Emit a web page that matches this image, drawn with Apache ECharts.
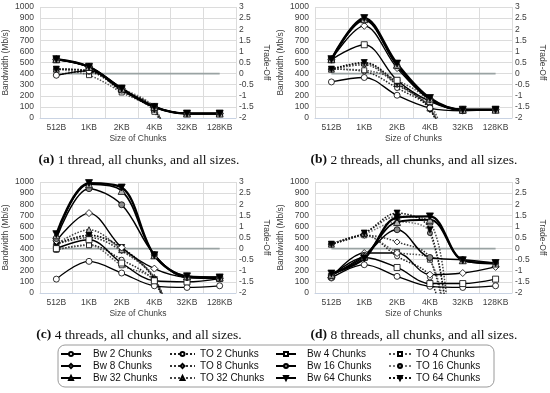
<!DOCTYPE html>
<html>
<head>
<meta charset="utf-8">
<script src="https://cdn.jsdelivr.net/npm/echarts@6/dist/echarts.min.js"></script>
<style>
html,body{margin:0;padding:0;background:#fff;}
#chart{width:550px;height:393px;}
</style>
</head>
<body>
<div id="chart"></div>
<script>
// ---------- DATA ----------
const categories = ['512B', '1KB', '2KB', '4KB', '32KB', '128KB'];
const chunkCounts = [2, 4, 8, 16, 32, 64];

// (a) 1 thread — bandwidth (Mb/s)
const bwA2  = [385, 425, 250, 95, 40, 40];
const bwA4  = [525, 458, 262, 100, 40, 40];
const bwA8  = [528, 460, 265, 100, 40, 40];
const bwA16 = [528, 460, 265, 100, 40, 40];
const bwA32 = [530, 460, 266, 100, 40, 40];
const bwA64 = [530, 462, 266, 100, 40, 40];
// (a) 1 thread — trade-off
const toA2  = [-0.07, 0.12, -0.8, -1.55, -5, -7];
const toA4  = [0.2, -0.07, -0.85, -1.72, -5, -7];
const toA8  = [0.2, 0.15, -0.7, -1.6, -5, -7];
const toA16 = [0.2, 0.15, -0.65, -1.55, -5, -7];
const toA32 = [0.2, 0.12, -0.7, -1.6, -5, -7];
const toA64 = [0.2, 0.1, -0.72, -1.62, -5, -7];

// (b) 2 threads — bandwidth
const bwB2  = [325, 365, 205, 90, 65, 75];
const bwB4  = [525, 660, 340, 150, 70, 75];
const bwB8  = [525, 830, 450, 165, 72, 75];
const bwB16 = [528, 880, 470, 170, 75, 75];
const bwB32 = [530, 890, 480, 175, 75, 75];
const bwB64 = [530, 900, 490, 180, 75, 75];
// (b) 2 threads — trade-off
const toB2  = [0.2, 0.1, -0.65, -1.6, -5, -7];
const toB4  = [0.2, 0.15, -0.3, -1.35, -5, -7];
const toB8  = [0.2, 0.4, -0.5, -1.55, -5, -7];
const toB16 = [0.2, 0.45, -0.45, -1.5, -5, -7];
const toB32 = [0.2, 0.48, -0.45, -1.55, -5, -7];
const toB64 = [0.2, 0.5, -0.42, -1.62, -5, -7];

// (c) 4 threads — bandwidth
const bwC2  = [125, 285, 180, 65, 50, 65];
const bwC4  = [400, 480, 270, 110, 100, 130];
const bwC8  = [470, 720, 410, 220, 140, 130];
const bwC16 = [490, 940, 795, 345, 140, 140];
const bwC32 = [520, 980, 920, 340, 150, 140];
const bwC64 = [530, 990, 950, 340, 150, 140];
// (c) 4 threads — trade-off
const toC2  = [-0.05, 0.17, -0.5, -1.5, -5, -7];
const toC4  = [-0.05, 0.15, -0.75, -1.45, -5, -7];
const toC8  = [0.2, 0.5, -0.1, -1.35, -5, -7];
const toC16 = [0.2, 0.6, 0.0, -1.4, -5, -7];
const toC32 = [0.2, 0.85, -0.05, -1.3, -5, -7];
const toC64 = [0.2, 0.6, 0.05, -1.4, -5, -7];

// (d) 8 threads — bandwidth
const bwD2  = [135, 255, 150, 60, 50, 65];
const bwD4  = [150, 320, 230, 85, 85, 125];
const bwD8  = [140, 360, 360, 165, 180, 235];
const bwD16 = [155, 340, 570, 320, 300, 270];
const bwD32 = [165, 330, 640, 660, 295, 265];
const bwD64 = [175, 310, 680, 690, 295, 270];
// (d) 8 threads — trade-off
const toD2  = [0.2, 0.6, -0.35, -1.3, -7, -9];
const toD4  = [0.2, 0.6, -0.15, -0.5, -7, -9];
const toD8  = [0.2, 0.6, 0.3, -0.45, -7, -9];
const toD16 = [0.2, 0.65, 1.2, 0.7, -7, -9];
const toD32 = [0.2, 0.7, 1.45, 1.2, -7, -9];
const toD64 = [0.2, 0.7, 1.6, 0.85, -7, -9];

const zeroLine = [0, 0, 0, 0, 0, 0];

const captions = [
  ['(a)', ' 1 thread, all chunks, and all sizes.'],
  ['(b)', ' 2 threads, all chunks, and all sizes.'],
  ['(c)', ' 4 threads, all chunks, and all sizes.'],
  ['(d)', ' 8 threads, all chunks, and all sizes.']
];

const panelBw = [
  [bwA2, bwA4, bwA8, bwA16, bwA32, bwA64],
  [bwB2, bwB4, bwB8, bwB16, bwB32, bwB64],
  [bwC2, bwC4, bwC8, bwC16, bwC32, bwC64],
  [bwD2, bwD4, bwD8, bwD16, bwD32, bwD64]
];
const panelTo = [
  [toA2, toA4, toA8, toA16, toA32, toA64],
  [toB2, toB4, toB8, toB16, toB32, toB64],
  [toC2, toC4, toC8, toC16, toC32, toC64],
  [toD2, toD4, toD8, toD16, toD32, toD64]
];

// ---------- STYLE ----------
const FONT = 'Liberation Sans, Arial, sans-serif';
const symbols = {
  2:  {symbol: 'circle',   fill: '#ffffff', rotate: 0,   size: 6},
  4:  {symbol: 'rect',     fill: '#ffffff', rotate: 0,   size: 6},
  8:  {symbol: 'diamond',  fill: '#ffffff', rotate: 0,   size: 7},
  16: {symbol: 'circle',   fill: '#8a8a8a', rotate: 0,   size: 6},
  32: {symbol: 'triangle', fill: '#b5b5b5', rotate: 0,   size: 7},
  64: {symbol: 'triangle', fill: '#000000', rotate: 180, size: 7}
};
const bwWidth = {2: 1.3, 4: 1.4, 8: 1.4, 16: 1.5, 32: 1.8, 64: 2.3};
const toColor = {2: '#222', 4: '#555', 8: '#333', 16: '#777', 32: '#444', 64: '#111'};

const grids = [
  {left: 40,  top: 7,   width: 196, height: 111},
  {left: 315, top: 7,   width: 197, height: 111},
  {left: 40,  top: 182, width: 196, height: 111},
  {left: 315, top: 182, width: 197, height: 111}
];

const axisText = {fontFamily: FONT, fontSize: 8.5, color: '#404040'};

const xAxes = [], yAxes = [], series = [];
grids.forEach((g, i) => {
  xAxes.push({
    type: 'category', gridIndex: i, data: categories, boundaryGap: true,
    name: 'Size of Chunks', nameLocation: 'middle', nameGap: 16,
    nameTextStyle: axisText,
    axisLabel: Object.assign({margin: 5, interval: 0}, axisText),
    axisTick: {show: false},
    axisLine: {show: true, lineStyle: {color: '#c9d3e3', width: 1}},
    splitLine: {show: true, interval: 0, lineStyle: {color: '#dcdcdc', width: 1}}
  });
  yAxes.push({
    type: 'value', gridIndex: i, min: 0, max: 1000, interval: 100, position: 'left',
    name: 'Bandwidth (Mb/s)', nameLocation: 'middle', nameGap: 30,
    nameTextStyle: axisText,
    axisLabel: Object.assign({margin: 6, formatter: v => String(v)}, axisText),
    axisTick: {show: false}, axisLine: {show: false},
    splitLine: {show: true, lineStyle: {color: '#dcdcdc', width: 1}}
  });
  yAxes.push({
    type: 'value', gridIndex: i, min: -2, max: 3, interval: 0.5, position: 'right',
    name: 'Trade-Off', nameLocation: 'middle', nameGap: 26, nameRotate: -90,
    nameTextStyle: axisText,
    axisLabel: Object.assign({margin: 3, formatter: v => String(v)}, axisText),
    axisTick: {show: false}, axisLine: {show: false},
    splitLine: {show: false}
  });

  series.push({
    name: 'zero', type: 'line', xAxisIndex: i, yAxisIndex: i * 2 + 1,
    data: zeroLine, symbol: 'none', silent: true, z: 1,
    lineStyle: {color: '#9aa3a3', width: 1.8}
  });

  chunkCounts.forEach((c, k) => {
    const s = symbols[c];
    series.push({
      name: 'TO ' + c + ' Chunks', type: 'line', xAxisIndex: i, yAxisIndex: i * 2 + 1,
      data: panelTo[i][k], smooth: 0.35, clip: true, z: 2,
      symbol: s.symbol, symbolSize: s.size - 1, symbolRotate: s.rotate,
      itemStyle: {color: s.fill, borderColor: '#000', borderWidth: 0.8},
      lineStyle: {color: toColor[c], width: 1.5, type: 'dotted'}
    });
  });
  chunkCounts.forEach((c, k) => {
    const s = symbols[c];
    series.push({
      name: 'Bw ' + c + ' Chunks', type: 'line', xAxisIndex: i, yAxisIndex: i * 2,
      data: panelBw[i][k], smooth: 0.35, clip: true, z: 3,
      symbol: s.symbol, symbolSize: s.size, symbolRotate: s.rotate,
      itemStyle: {color: s.fill, borderColor: '#000', borderWidth: 0.8},
      lineStyle: {color: '#000', width: bwWidth[c], type: 'solid'}
    });
  });
});

// legend: four columns of three rows
const legendCols = [
  {names: ['Bw 2 Chunks', 'Bw 8 Chunks', 'Bw 32 Chunks'], left: 60, w: 20, pad: 7},
  {names: ['TO 2 Chunks', 'TO 8 Chunks', 'TO 32 Chunks'], left: 169, w: 25, pad: 0},
  {names: ['Bw 4 Chunks', 'Bw 16 Chunks', 'Bw 64 Chunks'], left: 275, w: 20, pad: 6},
  {names: ['TO 4 Chunks', 'TO 16 Chunks', 'TO 64 Chunks'], left: 388, w: 22, pad: 0}
];
const legends = legendCols.map(col => ({
  orient: 'vertical', left: col.left, top: 348, padding: 0,
  itemWidth: col.w, itemHeight: 5, itemGap: 0, selectedMode: false,
  data: col.names,
  textStyle: {fontFamily: FONT, fontSize: 10, color: '#111', lineHeight: 12, padding: [0, 0, 0, col.pad]}
}));

const captionPos = [[139, 160], [414, 160], [139, 335], [414, 335]];
const graphics = captions.map((cap, i) => ({
  type: 'text', x: captionPos[i][0], y: captionPos[i][1],
  style: {
    text: '{b|' + cap[0] + '}{n|' + cap[1] + '}',
    align: 'center', verticalAlign: 'middle',
    rich: {
      b: {fontFamily: 'Liberation Serif, serif', fontSize: 13.5, fontWeight: 'bold', fill: '#111'},
      n: {fontFamily: 'Liberation Serif, serif', fontSize: 13.5, fill: '#111'}
    }
  }
}));
graphics.push({
  type: 'rect', shape: {x: 58, y: 345, width: 436, height: 42, r: 7},
  style: {fill: 'none', stroke: '#9a9a9a', lineWidth: 1}, z: -1
});

const chart = echarts.init(document.getElementById('chart'), null, {renderer: 'canvas'});
chart.setOption({
  animation: false,
  backgroundColor: '#fff',
  grid: grids,
  xAxis: xAxes,
  yAxis: yAxes,
  legend: legends,
  graphic: graphics,
  series: series
});
</script>
</body>
</html>
